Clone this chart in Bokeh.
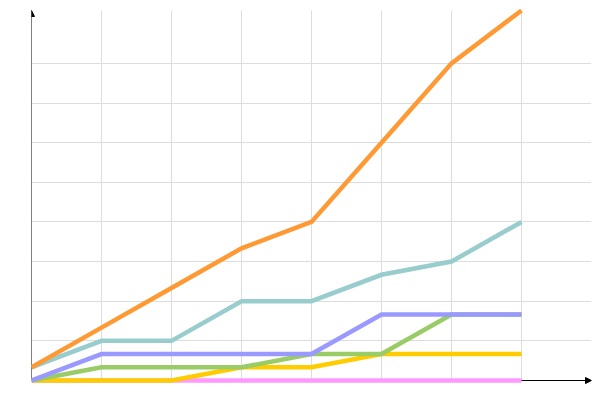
from bokeh.plotting import figure
from bokeh.models import Range1d, FixedTicker, Arrow, NormalHead
from bokeh.embed import file_html
from bokeh.resources import INLINE

x_vals = [0, 1, 2, 3, 4, 5, 6, 7]
orange = [1, 4, 7, 10, 12, 18, 24, 28]
teal = [1, 3, 3, 6, 6, 8, 9, 12]
purple = [0, 2, 2, 2, 2, 5, 5, 5]
green = [0, 1, 1, 1, 2, 2, 5, 5]
yellow = [0, 0, 0, 1, 1, 2, 2, 2]
pink = [0, 0, 0, 0, 0, 0, 0, 0]

x_ticks = [1, 2, 3, 4, 5, 6, 7]
y_ticks = [3, 6, 9, 12, 15, 18, 21, 24]

series = [
    (pink, "#FF99FF"),
    (yellow, "#FFCC00"),
    (green, "#99CC66"),
    (purple, "#9999FF"),
    (teal, "#99CCCC"),
    (orange, "#FF9933"),
]

pad = 5 / (370 / 28)
p = figure(width=595, height=392, output_backend="svg", toolbar_location=None,
           x_range=Range1d(0, 8), y_range=Range1d(-pad, 28 + pad),
           min_border_left=31, min_border_right=4, min_border_top=5, min_border_bottom=7)
p.outline_line_color = None
p.xaxis.visible = False
p.yaxis.visible = False
p.xaxis.ticker = FixedTicker(ticks=x_ticks)
p.yaxis.ticker = FixedTicker(ticks=y_ticks)
p.xgrid.ticker = FixedTicker(ticks=x_ticks)
p.ygrid.ticker = FixedTicker(ticks=y_ticks)
p.grid.grid_line_color = "#DDDDDD"
p.grid.grid_line_width = 1
try:
    p.xgrid.cross_bounds = (0, 28)
except Exception:
    pass

p.add_layout(Arrow(end=NormalHead(size=6, fill_color="black", line_color="black"),
                   x_start=0, y_start=0, x_end=8, y_end=0,
                   line_color="black", line_width=1, level="underlay"))
p.add_layout(Arrow(end=NormalHead(size=6, fill_color="black", line_color="black"),
                   x_start=0, y_start=0, x_end=0, y_end=28,
                   line_color="black", line_width=1, level="underlay"))

for ys, c in series:
    p.line(x_vals, ys, line_color=c, line_width=4.5, line_join="miter", line_cap="butt")

open("out.html", "w").write(file_html(p, INLINE))
